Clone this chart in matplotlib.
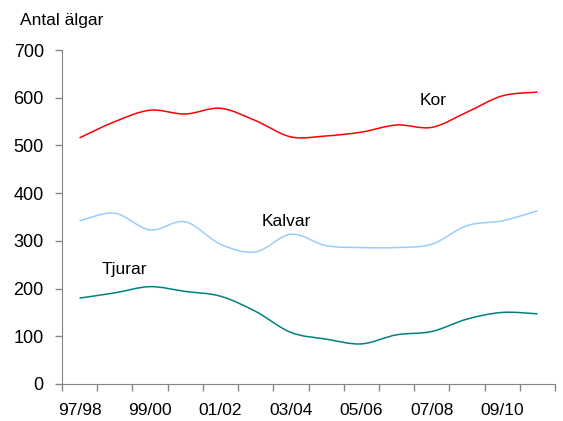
import numpy as np
import matplotlib
matplotlib.use("Agg")
import matplotlib.pyplot as plt
from matplotlib.path import Path
from matplotlib.patches import PathPatch

plt.rcParams['font.family'] = ['Liberation Sans', 'DejaVu Sans']

# säsonger
seasons = ["97/98", "98/99", "99/00", "00/01", "01/02", "02/03", "03/04",
           "04/05", "05/06", "06/07", "07/08", "08/09", "09/10", "10/11"]
kor = [516, 550, 574, 566, 578, 552, 518, 520, 528, 543, 538, 570, 604, 612]
kalvar = [342, 358, 323, 340, 293, 277, 314, 290, 286, 286, 293, 332, 342, 363]
tjurar = [180, 191, 204, 194, 184, 152, 108, 94, 84, 103, 110, 136, 150, 147]

yticks = [0, 100, 200, 300, 400, 500, 600, 700]


def smooth_path(x, y, t=1 / 6.):
    # Catmull-Rom -> Bezier, ungefaer som Excels "utjaemnad linje"
    x = np.asarray(x, float)
    y = np.asarray(y, float)
    verts = [(x[0], y[0])]
    codes = [Path.MOVETO]
    n = len(x)
    for i in range(n - 1):
        i0 = max(i - 1, 0)
        i3 = min(i + 2, n - 1)
        c1 = (x[i] + (x[i + 1] - x[i0]) * t, y[i] + (y[i + 1] - y[i0]) * t)
        c2 = (x[i + 1] - (x[i3] - x[i]) * t, y[i + 1] - (y[i3] - y[i]) * t)
        verts += [c1, c2, (x[i + 1], y[i + 1])]
        codes += [Path.CURVE4] * 3
    return Path(verts, codes)


fig = plt.figure(figsize=(5.63, 4.21), dpi=100)
ax = fig.add_axes([0.110, 0.088, 0.876, 0.793])

xs = np.arange(len(seasons))
for serie, col in [(kor, '#FF0000'), (kalvar, '#99CCFF'), (tjurar, '#008080')]:
    ax.add_patch(PathPatch(smooth_path(xs, serie), fill=False, edgecolor=col, lw=1.1))

ax.set_xlim(-0.5, len(seasons) - 0.5)
ax.set_ylim(0, 700)
ax.set_yticks(yticks)
ax.set_xticks(np.arange(-0.5, len(seasons), 1))
ax.set_xticklabels([])
ax.set_xticks(xs[::2], minor=True)
ax.set_xticklabels(seasons[::2], minor=True)

for s in ['top', 'right']:
    ax.spines[s].set_visible(False)
for s in ['left', 'bottom']:
    ax.spines[s].set_color('#868686')
ax.tick_params(axis='both', which='major', direction='out', length=5,
               color='#868686', labelsize=13, width=1)
ax.tick_params(axis='x', which='minor', length=0, labelsize=12.5, pad=14)
ax.tick_params(axis='y', pad=8)

ax.text(9.66, 594, "Kor", fontsize=12.5, va='center')
ax.text(5.16, 340, "Kalvar", fontsize=12.5, va='center')
ax.text(0.62, 239, "Tjurar", fontsize=12.5, va='center')
fig.text(20 / 563, 1 - 20 / 421, "Antal älgar", fontsize=12.5, va='center')

fig.savefig("out.png", dpi=100)
